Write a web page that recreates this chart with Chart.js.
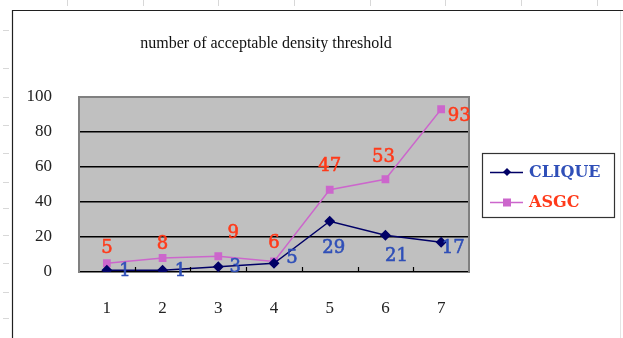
<!DOCTYPE html>
<html>
<head>
<meta charset="utf-8">
<script src="https://cdn.jsdelivr.net/npm/chart.js@4/dist/chart.umd.min.js"></script>
<style>
  html, body { margin: 0; padding: 0; background: #ffffff; }
  #wrap { width: 623px; height: 338px; position: relative; }
</style>
</head>
<body>
<div id="wrap"><canvas id="c" width="623" height="338"></canvas></div>
<script>
// Threshold categories along the x axis
const categories = ['1', '2', '3', '4', '5', '6', '7'];
// Number of acceptable density thresholds per method
const cliqueValues = [1, 1, 3, 5, 29, 21, 17];
const asgcValues = [5, 8, 9, 6, 47, 53, 93];
// Value axis ticks
const yTicks = [0, 20, 40, 60, 80, 100];

const chartTitle = 'number of acceptable density threshold';

// Per-point label placement (dx, dy from the marker centre)
const cliqueLabelShift = [[18, 1], [18, 1], [17, 1], [18, -5], [4, 27], [11, 21], [12, 6]];
const asgcLabelShift = [[0, -15], [0, -14], [15, -23], [0, -18], [0, -23], [-2, -22], [18, 7]];

const PLOT_BG = '#c0c0c0';
const CLIQUE_LINE = '#000066';
const ASGC_LINE = '#cc66cc';
const CLIQUE_TEXT = '#2f4fb8';
const ASGC_TEXT = '#ff3a1a';

const framePlugin = {
  id: 'frame',
  beforeDraw(chart) {
    const { ctx, chartArea: a } = chart;
    ctx.save();
    // faint sheet cell marks
    ctx.strokeStyle = '#d8d8d8';
    ctx.lineWidth = 1;
    [30, 68, 97, 125, 153, 182, 208, 235, 263, 292, 318].forEach(y => {
      ctx.beginPath(); ctx.moveTo(3, y + 0.5); ctx.lineTo(9, y + 0.5); ctx.stroke();
    });
    [67, 143, 218, 294, 370, 445, 521, 597].forEach(x => {
      ctx.beginPath(); ctx.moveTo(x + 0.5, 0); ctx.lineTo(x + 0.5, 6); ctx.stroke();
    });
    ctx.strokeStyle = '#e4e4e4';
    ctx.beginPath(); ctx.moveTo(620.5, 10); ctx.lineTo(620.5, 338); ctx.stroke();
    // outer chart frame (left and top edges)
    ctx.strokeStyle = '#202020';
    ctx.lineWidth = 1.2;
    ctx.beginPath();
    ctx.moveTo(12.5, 338); ctx.lineTo(12.5, 10.5); ctx.lineTo(623, 10.5);
    ctx.stroke();
    // plot background
    ctx.fillStyle = PLOT_BG;
    ctx.fillRect(a.left, a.top, a.right - a.left, a.bottom - a.top);
    // title
    ctx.fillStyle = '#111111';
    ctx.font = '16px "Liberation Serif", serif';
    ctx.textAlign = 'center';
    ctx.textBaseline = 'middle';
    ctx.fillText(chartTitle, 266, 44);
    ctx.restore();
  },
  afterDatasetsDraw(chart) {
    const { ctx, chartArea: a, scales } = chart;
    ctx.save();
    // gray plot border on top and right
    ctx.strokeStyle = '#808080';
    ctx.lineWidth = 2;
    ctx.beginPath();
    ctx.moveTo(a.left, a.top); ctx.lineTo(a.right, a.top); ctx.lineTo(a.right, a.bottom);
    ctx.stroke();
    // category boundary ticks rising from the base line
    ctx.strokeStyle = '#000000';
    ctx.lineWidth = 1.2;
    for (let i = 0; i < categories.length - 1; i++) {
      const x = Math.round((scales.x.getPixelForValue(i) + scales.x.getPixelForValue(i + 1)) / 2) + 0.5;
      ctx.beginPath(); ctx.moveTo(x, a.bottom); ctx.lineTo(x, a.bottom - 5); ctx.stroke();
    }
    // value labels
    ctx.font = '18px "DejaVu Serif", serif';
    ctx.textAlign = 'center';
    ctx.textBaseline = 'middle';
    ctx.lineWidth = 0.6;
    const sets = [[0, cliqueLabelShift, CLIQUE_TEXT], [1, asgcLabelShift, ASGC_TEXT]];
    sets.forEach(([di, shifts, color]) => {
      const meta = chart.getDatasetMeta(di);
      const values = chart.data.datasets[di].data;
      ctx.fillStyle = color;
      ctx.strokeStyle = color;
      meta.data.forEach((pt, i) => {
        const x = pt.x + shifts[i][0];
        const y = pt.y + shifts[i][1];
        ctx.fillText(String(values[i]), x, y);
        ctx.strokeText(String(values[i]), x, y);
      });
    });
    // legend box
    ctx.fillStyle = '#ffffff';
    ctx.fillRect(482, 153, 132, 64);
    ctx.strokeStyle = '#333333';
    ctx.lineWidth = 1.2;
    ctx.strokeRect(482.5, 153.5, 132, 64);
    const items = [
      { ds: chart.data.datasets[0], y: 172, color: CLIQUE_TEXT },
      { ds: chart.data.datasets[1], y: 202, color: ASGC_TEXT }
    ];
    items.forEach(it => {
      ctx.strokeStyle = it.ds.borderColor;
      ctx.lineWidth = 1.3;
      ctx.beginPath(); ctx.moveTo(490, it.y + 0.5); ctx.lineTo(523, it.y + 0.5); ctx.stroke();
      ctx.fillStyle = it.ds.pointBackgroundColor;
      if (it.ds.pointStyle === 'rectRot') {
        ctx.beginPath();
        ctx.moveTo(507, it.y - 4); ctx.lineTo(511, it.y); ctx.lineTo(507, it.y + 4); ctx.lineTo(503, it.y);
        ctx.closePath(); ctx.fill();
      } else {
        ctx.fillRect(503, it.y - 3.5, 8, 8);
      }
      ctx.fillStyle = it.color;
      ctx.font = 'bold 16px "DejaVu Serif", serif';
      ctx.textAlign = 'left';
      ctx.textBaseline = 'middle';
      ctx.fillText(it.ds.label, 529, it.y + 1);
    });
    ctx.restore();
  }
};

new Chart(document.getElementById('c'), {
  type: 'line',
  data: {
    labels: categories,
    datasets: [
      {
        label: 'CLIQUE',
        data: cliqueValues,
        borderColor: CLIQUE_LINE,
        backgroundColor: CLIQUE_LINE,
        pointBackgroundColor: CLIQUE_LINE,
        pointBorderColor: CLIQUE_LINE,
        pointStyle: 'rectRot',
        pointRadius: 4.5,
        borderWidth: 1.4,
        tension: 0
      },
      {
        label: 'ASGC',
        data: asgcValues,
        borderColor: ASGC_LINE,
        backgroundColor: ASGC_LINE,
        pointBackgroundColor: ASGC_LINE,
        pointBorderColor: ASGC_LINE,
        pointStyle: 'rect',
        pointRadius: 4.5,
        borderWidth: 1.4,
        tension: 0
      }
    ]
  },
  options: {
    responsive: false,
    animation: false,
    events: [],
    layout: { padding: { top: 97, right: 154, left: 0, bottom: 0 } },
    plugins: { legend: { display: false }, title: { display: false }, tooltip: { enabled: false } },
    scales: {
      x: {
        offset: true,
        grid: { display: false, drawTicks: false, offset: true },
        border: { display: true, color: '#000000', width: 1.5 },
        ticks: { color: '#222222', padding: 26, font: { family: '"Liberation Serif", serif', size: 17 } },
        afterFit(s) { s.height = 66; }
      },
      y: {
        min: 0,
        max: 100,
        afterBuildTicks(s) { s.ticks = yTicks.map(v => ({ value: v })); },
        grid: {
          drawTicks: false,
          color: ctx => (ctx.tick && (ctx.tick.value === 0 || ctx.tick.value === 100)) ? 'rgba(0,0,0,0)' : '#000000',
          lineWidth: 1.5
        },
        border: { display: true, color: '#808080', width: 2 },
        ticks: { color: '#222222', padding: 27, font: { family: '"Liberation Serif", serif', size: 17 } },
        afterFit(s) { s.width = 79; }
      }
    }
  },
  plugins: [framePlugin]
});
</script>
</body>
</html>
